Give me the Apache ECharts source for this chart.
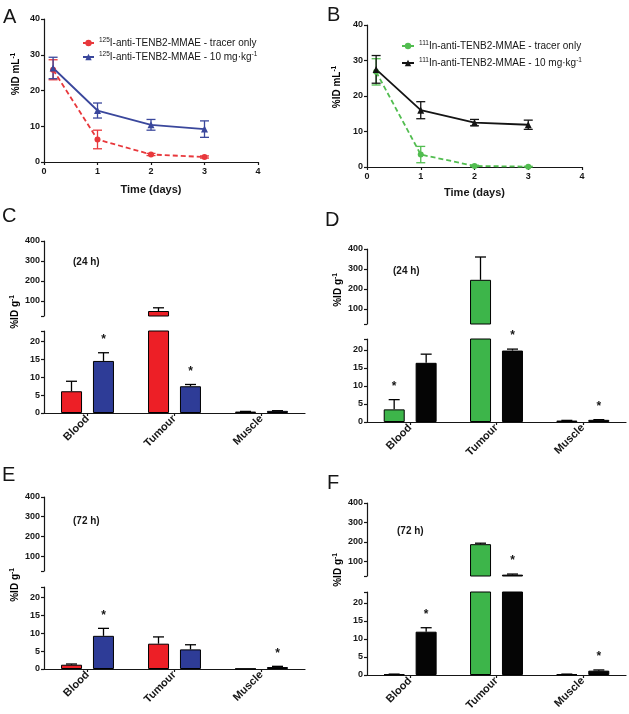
<!DOCTYPE html>
<html><head><meta charset="utf-8">
<script src="https://cdn.jsdelivr.net/npm/echarts@6/dist/echarts.min.js"></script>
<style>html,body{margin:0;padding:0;background:#fff}#c{width:629px;height:714px}</style>
</head><body><div id="c"></div>
<script>
// ================= DATA =================
// Panels A / B : blood clearance (%ID mL-1) vs time (days)
const timeDays = [0.17, 1, 2, 3];
const timeTicks = [0, 1, 2, 3, 4];
const bloodTicks = [0, 10, 20, 30, 40];

const aNames = ['125I-anti-TENB2-MMAE - tracer only', '125I-anti-TENB2-MMAE - 10 mg·kg-1'];
const aTracer = [25.8, 6.3, 2.1, 1.4];
const aTracerErr = [2.8, 2.6, 0.3, 0.3];
const aDose = [26.3, 14.4, 10.4, 9.2];
const aDoseErr = [3.0, 2.1, 1.5, 2.3];

const bNames = ['111In-anti-TENB2-MMAE - tracer only', '111In-anti-TENB2-MMAE - 10 mg·kg-1'];
const bTracer = [26.8, 3.5, 0.3, 0.1];
const bTracerErr = [3.7, 2.3, 0.2, 0.1];
const bDose = [27.5, 16.0, 12.5, 11.9];
const bDoseErr = [3.9, 2.4, 0.9, 1.3];

// Panels C-F : biodistribution (%ID g-1)
const organs = ['Blood', 'Tumour', 'Muscle'];
const bottomTicks = [0, 5, 10, 15, 20];
const topTicks = [100, 200, 300, 400];
const lowBreak = 23;   // top of lower axis segment
const highBreak = 25;  // bottom of upper axis segment
const topMax = 400;

const cTracer = [6.1, 50, 0.4];   const cTracerErr = [2.8, 16, 0.05]; const cTracerStar = [0, 0, 0];
const cDose   = [14.6, 7.5, 0.6]; const cDoseErr   = [2.3, 0.5, 0.05]; const cDoseStar   = [1, 1, 0];

const dTracer = [3.5, 246, 0.4];  const dTracerErr = [2.7, 114, 0.05]; const dTracerStar = [1, 0, 0];
const dDose   = [16.4, 19.8, 0.6]; const dDoseErr  = [2.4, 0.4, 0.05]; const dDoseStar   = [0, 1, 1];

const eTracer = [1.2, 7.1, 0.1];  const eTracerErr = [0.2, 1.9, 0];    const eTracerStar = [0, 0, 0];
const eDose   = [9.3, 5.5, 0.55]; const eDoseErr   = [2.1, 1.3, 0.2];  const eDoseStar   = [1, 0, 1];

const fTracer = [0.2, 188.5, 0.2]; const fTracerErr = [0.05, 5, 0.05]; const fTracerStar = [0, 0, 0];
const fDose   = [12.0, 32, 1.2];   const fDoseErr   = [1.1, 3, 0.2];   const fDoseStar   = [1, 1, 1];

// ================= STYLE =================
const FONT = "'Liberation Sans', Arial, Helvetica, sans-serif";
const INK = '#161616';
const RED = '#ed1f26', BLUE = '#2e3c97', GREEN = '#3db54a', BLACK = '#050505';
const RED_L = '#e8383c', BLUE_L = '#3a479c', GREEN_L = '#52bd50', BLACK_L = '#141414';

const chart = echarts.init(document.getElementById('c'), null, {renderer: 'canvas', width: 629, height: 714});

const grids = [
  {left: 44, top: 19, width: 214, height: 143},   // A
  {left: 367, top: 25, width: 215, height: 142},  // B
  {left: 44, top: 241, width: 261, height: 75},   // C top
  {left: 44, top: 331, width: 261, height: 82},   // C bottom
  {left: 367, top: 249, width: 259, height: 75},  // D top
  {left: 367, top: 339, width: 259, height: 83},  // D bottom
  {left: 44, top: 497, width: 261, height: 74},   // E top
  {left: 44, top: 587, width: 261, height: 82},   // E bottom
  {left: 367, top: 503, width: 259, height: 73},  // F top
  {left: 367, top: 592, width: 259, height: 83}   // F bottom
];

const axisLineStyle = {color: INK, width: 1.2};
const tickLabel = {fontFamily: FONT, fontWeight: 'bold', fontSize: 9, color: INK};

const supRich = {
  a: {fontFamily: FONT, fontWeight: 'bold', fontSize: 10, color: INK, lineHeight: 13},
  s: {fontFamily: FONT, fontWeight: 'bold', fontSize: 6.5, color: INK, lineHeight: 13, verticalAlign: 'top'}
};

function lineXAxis(gi, gap) {
  return {
    gridIndex: gi, type: 'value', min: timeTicks[0], max: timeTicks[timeTicks.length - 1], interval: 1,
    name: 'Time (days)', nameLocation: 'middle', nameGap: gap,
    nameTextStyle: {fontFamily: FONT, fontWeight: 'bold', fontSize: 11, color: INK},
    axisLine: {show: true, lineStyle: axisLineStyle},
    axisTick: {show: true, length: 3, lineStyle: axisLineStyle},
    axisLabel: Object.assign({margin: 5, customValues: timeTicks}, tickLabel),
    splitLine: {show: false}
  };
}
function lineYAxis(gi) {
  return {
    gridIndex: gi, type: 'value', min: bloodTicks[0], max: bloodTicks[bloodTicks.length - 1], interval: 10,
    axisLine: {show: true, lineStyle: axisLineStyle},
    axisTick: {show: true, length: 3, lineStyle: axisLineStyle},
    axisLabel: Object.assign({margin: 4, customValues: bloodTicks}, tickLabel),
    splitLine: {show: false}
  };
}
function barXAxis(gi, visible) {
  return {
    gridIndex: gi, type: 'category', data: organs, show: visible,
    axisLine: {show: true, onZero: false, lineStyle: axisLineStyle},
    axisTick: {show: true, alignWithLabel: true, length: 3, lineStyle: axisLineStyle},
    axisLabel: {rotate: 45, margin: 4, fontFamily: FONT, fontWeight: 'bold', fontSize: 11, color: INK, interval: 0}
  };
}
function barYTop(gi) {
  return {
    gridIndex: gi, type: 'value', min: highBreak, max: topMax,
    axisLine: {show: true, lineStyle: axisLineStyle},
    axisTick: {show: true, length: 3, lineStyle: axisLineStyle, customValues: [highBreak].concat(topTicks)},
    axisLabel: Object.assign({margin: 4, customValues: topTicks}, tickLabel),
    splitLine: {show: false}
  };
}
function barYBot(gi) {
  return {
    gridIndex: gi, type: 'value', min: 0, max: lowBreak,
    axisLine: {show: true, lineStyle: axisLineStyle},
    axisTick: {show: true, length: 3, lineStyle: axisLineStyle, customValues: bottomTicks.concat([lowBreak])},
    axisLabel: Object.assign({margin: 4, customValues: bottomTicks}, tickLabel),
    splitLine: {show: false}
  };
}

const xAxes = [lineXAxis(0, 22), lineXAxis(1, 20)];
const yAxes = [lineYAxis(0), lineYAxis(1)];
for (let p = 0; p < 4; p++) {
  xAxes.push(barXAxis(2 + 2 * p, false)); xAxes.push(barXAxis(3 + 2 * p, true));
  yAxes.push(barYTop(2 + 2 * p)); yAxes.push(barYBot(3 + 2 * p));
}

// ---- renderers ----
function lineErrRender(color) {
  return function (params, api) {
    const x = api.value(0), y = api.value(1), e = api.value(2);
    const p1 = api.coord([x, y - e]), p2 = api.coord([x, y + e]);
    const w = 4.5, st = {stroke: color, lineWidth: 1.3};
    return {type: 'group', children: [
      {type: 'line', shape: {x1: p1[0], y1: p1[1], x2: p2[0], y2: p2[1]}, style: st},
      {type: 'line', shape: {x1: p1[0] - w, y1: p1[1], x2: p1[0] + w, y2: p1[1]}, style: st},
      {type: 'line', shape: {x1: p2[0] - w, y1: p2[1], x2: p2[0] + w, y2: p2[1]}, style: st}
    ]};
  };
}
const BAR_W = 21, BAR_OFF = 16;
function barErrRender(lo, hi) {
  return function (params, api) {
    const c = api.value(0), v = api.value(1), e = api.value(2), s = api.value(3), g = api.value(4);
    const x = api.coord([c, lo])[0] + g * BAR_OFF;
    const top = v + e;
    const kids = [];
    const a = Math.max(v, lo), b = Math.min(top, hi);
    const st = {stroke: '#000', lineWidth: 1.3};
    if (e > 0 && b > a) {
      const y1 = api.coord([c, a])[1], y2 = api.coord([c, b])[1];
      kids.push({type: 'line', shape: {x1: x, y1: y1, x2: x, y2: y2}, style: st});
      if (top <= hi) kids.push({type: 'line', shape: {x1: x - 5.5, y1: y2, x2: x + 5.5, y2: y2}, style: st});
    }
    if (s && top >= lo && top <= hi) {
      const ys = api.coord([c, top])[1] - 13;
      kids.push({type: 'text', x: x, y: ys, style: {text: '*', fill: INK, fontFamily: FONT, fontWeight: 'bold', fontSize: 12, align: 'center', verticalAlign: 'middle'}});
    }
    return {type: 'group', children: kids};
  };
}

// ---- series ----
const series = [];
function addLine(gi, name, vals, errs, color, symbol, size, dashed) {
  series.push({
    type: 'custom', xAxisIndex: gi, yAxisIndex: gi, renderItem: lineErrRender(color), clip: false, silent: true, z: 2,
    data: timeDays.map((t, i) => [t, vals[i], errs[i]])
  });
  series.push({
    type: 'line', name: name, xAxisIndex: gi, yAxisIndex: gi, z: 3, silent: true,
    data: timeDays.map((t, i) => [t, vals[i]]),
    symbol: symbol, symbolSize: size,
    lineStyle: {color: color, width: 1.8, type: dashed ? [5, 3] : 'solid'},
    itemStyle: {color: color}
  });
}
addLine(0, aNames[0], aTracer, aTracerErr, RED_L, 'circle', 6, true);
addLine(0, aNames[1], aDose, aDoseErr, BLUE_L, 'triangle', 7, false);
addLine(1, bNames[0], bTracer, bTracerErr, GREEN_L, 'circle', 6, true);
addLine(1, bNames[1], bDose, bDoseErr, BLACK_L, 'triangle', 7, false);

const barPanels = [
  {g: 2, tr: cTracer, trE: cTracerErr, trS: cTracerStar, ds: cDose, dsE: cDoseErr, dsS: cDoseStar, c1: RED, c2: BLUE},
  {g: 4, tr: dTracer, trE: dTracerErr, trS: dTracerStar, ds: dDose, dsE: dDoseErr, dsS: dDoseStar, c1: GREEN, c2: BLACK},
  {g: 6, tr: eTracer, trE: eTracerErr, trS: eTracerStar, ds: eDose, dsE: eDoseErr, dsS: eDoseStar, c1: RED, c2: BLUE},
  {g: 8, tr: fTracer, trE: fTracerErr, trS: fTracerStar, ds: fDose, dsE: fDoseErr, dsS: fDoseStar, c1: GREEN, c2: BLACK}
];
barPanels.forEach(p => {
  [[p.g, highBreak, topMax], [p.g + 1, 0, lowBreak]].forEach(([gi, lo, hi]) => {
    series.push({type: 'bar', xAxisIndex: gi, yAxisIndex: gi, data: p.tr, barWidth: BAR_W, barGap: '52%', clip: true, silent: true,
      itemStyle: {color: p.c1, borderColor: '#000', borderWidth: 1}});
    series.push({type: 'bar', xAxisIndex: gi, yAxisIndex: gi, data: p.ds, barWidth: BAR_W, barGap: '52%', clip: true, silent: true,
      itemStyle: {color: p.c2, borderColor: '#000', borderWidth: 1}});
    const d = [];
    organs.forEach((o, i) => {
      d.push([i, p.tr[i], p.trE[i], p.trS[i], -1]);
      d.push([i, p.ds[i], p.dsE[i], p.dsS[i], 1]);
    });
    series.push({type: 'custom', xAxisIndex: gi, yAxisIndex: gi, renderItem: barErrRender(lo, hi), clip: false, silent: true, z: 4,
      encode: {x: 0, y: 1}, data: d});
  });
});

// ---- legends ----
function legendFmt(name) {
  const m = name.match(/^(\d+)(.*)$/);
  let rest = m[2], tail = '';
  if (rest.endsWith('-1')) { rest = rest.slice(0, -2); tail = '{s|-1}'; }
  return '{s|' + m[1] + '}{t|' + rest + '}' + tail;
}
const legendText = {
  fontFamily: FONT, fontSize: 10, color: INK,
  rich: {
    t: {fontFamily: FONT, fontSize: 10, color: INK, lineHeight: 12},
    s: {fontFamily: FONT, fontSize: 6.5, color: INK, lineHeight: 12, verticalAlign: 'top'}
  }
};
const legends = [
  {data: aNames, left: 77, top: 32, orient: 'vertical', itemWidth: 11, itemHeight: 8, itemGap: 3, formatter: legendFmt, textStyle: legendText, selectedMode: false},
  {data: bNames, left: 396, top: 35, orient: 'vertical', itemWidth: 12, itemHeight: 8, itemGap: 6, formatter: legendFmt, textStyle: legendText, selectedMode: false}
];

// ---- annotation texts ----
function letter(t, x, y) {
  return {type: 'text', x: x, y: y, style: {text: t, fontFamily: FONT, fontSize: 20, fill: INK, align: 'left', verticalAlign: 'middle'}};
}
function timeNote(t, x, y) {
  return {type: 'text', x: x, y: y, style: {text: t, fontFamily: FONT, fontWeight: 'bold', fontSize: 10, fill: INK, align: 'left', verticalAlign: 'middle'}};
}
function yName(txt, x, y) {
  return {type: 'text', x: x, y: y, rotation: Math.PI / 2,
    style: {text: '{a|' + txt + '}{s|-1}', align: 'center', verticalAlign: 'middle', rich: supRich}};
}
const graphics = [
  letter('A', 3, 17), letter('B', 327, 15), letter('C', 2, 216), letter('D', 325, 220), letter('E', 2, 475), letter('F', 327, 483),
  timeNote('(24 h)', 73, 262), timeNote('(24 h)', 393, 271), timeNote('(72 h)', 73, 521), timeNote('(72 h)', 397, 531),
  yName('%ID mL', 16, 74), yName('%ID mL', 337, 87),
  yName('%ID g', 15, 312), yName('%ID g', 338, 290), yName('%ID g', 15, 585), yName('%ID g', 338, 570)
];

chart.setOption({
  animation: false,
  backgroundColor: '#fff',
  grid: grids,
  xAxis: xAxes,
  yAxis: yAxes,
  legend: legends,
  graphic: graphics,
  series: series
});
</script></body></html>
